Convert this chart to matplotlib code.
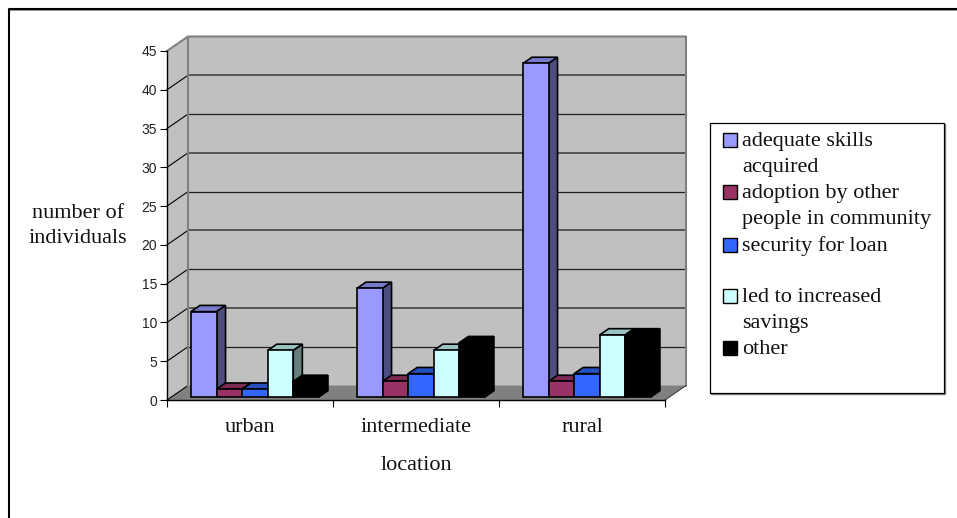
import matplotlib
matplotlib.use('Agg')
import matplotlib.pyplot as plt
from matplotlib.lines import Line2D
from matplotlib.patches import Rectangle
from matplotlib.transforms import Affine2D

W, H = 957, 518

locations = ['urban', 'intermediate', 'rural']
reasons = ['adequate skills\nacquired', 'adoption by other\npeople in community',
           'security for loan\n', 'led to increased\nsavings', 'other']
adequate_skills = [11, 14, 43]
adoption = [1, 2, 2]
security = [1, 3, 3]
savings = [6, 6, 8]
other = [2, 7, 8]
y_ticks = [0, 5, 10, 15, 20, 25, 30, 35, 40, 45]

series = [adequate_skills, adoption, security, savings, other]
# front, side, top
colors = [('#9999ff', '#4d4d80', '#7a7acc'),
          ('#993366', '#4d1a33', '#7a2952'),
          ('#3366ff', '#1a3380', '#2650c0'),
          ('#ccffff', '#668080', '#99c2c2'),
          ('#000000', '#000000', '#000000')]

SERIF = 'Liberation Serif'
SANS = 'Liberation Sans'

# depth of the fake 3d box, in data units
DX = 21 / 166
DY = 14.5 / 7.76
BAR_W = 25.6 / 166
GAP = 19.5 / 166
BAR_FRONT = 0.21
BAR_DEPTH = 0.43

fig = plt.figure(figsize=(W / 100, H / 100), dpi=100)
px = Affine2D().scale(1 / W, -1 / H).translate(0, 1) + fig.transFigure

# border only on the top and left
fig.add_artist(Line2D([9, 9, W], [H, 8.5, 8.5], transform=px, color='black', lw=1.5))
fig.add_artist(Line2D([10, W], [10, 10], transform=px, color='#909090', lw=0.7))

ax = fig.add_axes([167 / W, 1 - 400 / H, (665 - 167) / W, (400 - 51) / H])
ax.set_xlim(0, 3)
ax.set_ylim(0, 45)
ax.patch.set_visible(False)
for s in ['top', 'right']:
    ax.spines[s].set_visible(False)
for s in ['left', 'bottom']:
    ax.spines[s].set_linewidth(1.0)
    ax.spines[s].set_zorder(1.5)

top = y_ticks[-1]
# walls and floor
ax.fill([DX, 3 + DX, 3 + DX, DX], [DY, DY, top + DY, top + DY], color='#c0c0c0', zorder=0, clip_on=False, lw=0)
ax.fill([0, DX, DX, 0], [0, DY, top + DY, top], color='#c0c0c0', zorder=0, clip_on=False, lw=0)
ax.fill([0, 3, 3 + DX, DX], [0, 0, DY, DY], color='#808080', zorder=0, clip_on=False, lw=0)

for i, v in enumerate(y_ticks[1:-1]):
    # every other gridline comes out heavier
    if i % 2:
        ax.plot([DX, 3 + DX], [v + DY, v + DY], color='#555555', lw=1.4, zorder=1, clip_on=False)
    else:
        ax.plot([DX, 3 + DX], [v + DY, v + DY], color='#202020', lw=0.9, zorder=1, clip_on=False)
for v in y_ticks[:-1]:
    ax.plot([0, DX], [v, v + DY], color='black', lw=0.8, zorder=1, clip_on=False)
ax.plot([0, DX, 3 + DX, 3 + DX], [top, top + DY, top + DY, DY], color='#808080', lw=1.5, zorder=1, clip_on=False)
ax.plot([DX, DX], [DY, top + DY], color='#808080', lw=1.5, zorder=1, clip_on=False)
ax.plot([3, 3 + DX], [0, DY], color='#404040', lw=0.8, zorder=1, clip_on=False)

# bars, left to right so each one covers the side of the previous
z = 2
fx = BAR_FRONT * DX
fy = BAR_FRONT * DY
bx = BAR_DEPTH * DX
by = BAR_DEPTH * DY
for g in range(len(locations)):
    for i, vals in enumerate(series):
        v = vals[g]
        x0 = g + GAP + i * BAR_W + fx
        x1 = x0 + BAR_W
        front, side, lid = colors[i]
        ax.fill([x0, x1, x1 + bx, x0 + bx], [v + fy, v + fy, v + fy + by, v + fy + by],
                fc=lid, ec='black', lw=1.2, zorder=z, clip_on=False)
        ax.fill([x1, x1 + bx, x1 + bx, x1], [fy, fy + by, v + fy + by, v + fy],
                fc=side, ec='black', lw=1.2, zorder=z, clip_on=False)
        ax.bar(x0, v, BAR_W, bottom=fy, align='edge', color=front, edgecolor='black',
               lw=1.2, zorder=z + 0.5, clip_on=False)
        z += 1

ax.set_yticks(y_ticks)
ax.set_xticks([0, 1, 2, 3])
ax.set_xticklabels([])
ax.set_xticks([0.5, 1.5, 2.5], minor=True)
ax.set_xticklabels(locations, minor=True, family=SERIF, fontsize=16, color='#111111')
ax.tick_params(axis='x', which='major', length=5, width=0.8)
ax.tick_params(axis='x', which='minor', length=0, pad=13)
ax.tick_params(axis='y', length=5, width=0.8, pad=2, labelsize=10, labelcolor='#222222')
for t in ax.get_yticklabels():
    t.set_family(SANS)

ax.set_xlabel('location', family=SERIF, fontsize=16, color='#111111', labelpad=14)
fig.text(78, 226, 'number of\nindividuals', transform=px, family=SERIF, fontsize=16,
         color='#111111', ha='center', va='center', linespacing=1.4)

# legend box
fig.add_artist(Rectangle((711, 124), 234, 270, transform=px, fc='none', ec='#808080', lw=1.0))
fig.add_artist(Rectangle((710, 123), 234, 270, transform=px, fc='white', ec='black', lw=0.9))
first_lines = [146, 198, 251, 302, 354]
for label, base, c in zip(reasons, first_lines, colors):
    fig.add_artist(Rectangle((722.5, base - 13), 14, 14, transform=px, fc=c[0], ec='black', lw=1.0))
    for n, line in enumerate(label.split('\n')):
        fig.text(742, base + 26 * n, line, transform=px, family=SERIF, fontsize=16,
                 color='#111111', ha='left', va='baseline')

fig.savefig('out.png', dpi=100)
